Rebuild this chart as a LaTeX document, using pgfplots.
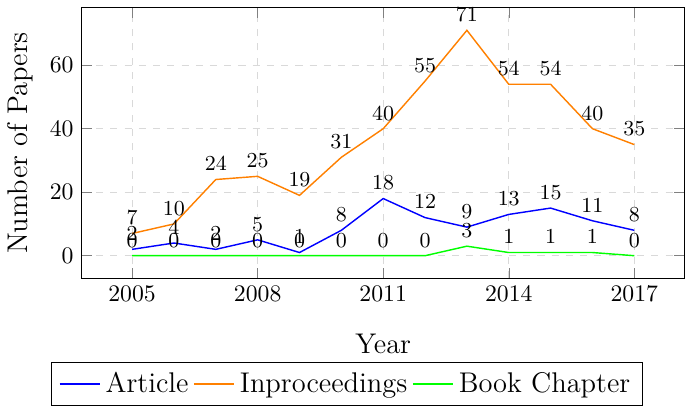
\documentclass[border=0pt]{standalone}
\usepackage{pgfplots}
\pgfplotsset{compat=1.18}

\begin{document}
\begin{tikzpicture}
    \begin{axis}[
        scale only axis,
        width=254pt,
        height=114pt,
        xlabel={Year},
        ylabel={Number of Papers},
        label style={font=\large},
        xlabel style={at={(axis description cs:0.5,-0.175)}, anchor=north},
        xtick={2005,2008,2011,2014,2017},
        ytick={0,20,40,60},
        /pgf/number format/1000 sep={},
        grid=major,
        grid style={dashed, gray!30},
        nodes near coords,
        nodes near coords style={black, font=\small},
        legend columns=-1,
        legend style={at={(0.44,-0.31)}, anchor=north, font=\large},
    ]

    % Article
    \addplot[blue, no marks, line width=0.6pt] coordinates {
        (2005,2) (2006,4) (2007,2) (2008,5) (2009,1) (2010,8) (2011,18)
        (2012,12) (2013,9) (2014,13) (2015,15) (2016,11) (2017,8)
    };
    \addlegendentry{Article}

    % Inproceedings
    \addplot[orange, no marks, line width=0.6pt] coordinates {
        (2005,7) (2006,10) (2007,24) (2008,25) (2009,19) (2010,31) (2011,40)
        (2012,55) (2013,71) (2014,54) (2015,54) (2016,40) (2017,35)
    };
    \addlegendentry{Inproceedings}

    % Book chapter
    \addplot[green, no marks, line width=0.6pt] coordinates {
        (2005,0) (2006,0) (2007,0) (2008,0) (2009,0) (2010,0) (2011,0)
        (2012,0) (2013,3) (2014,1) (2015,1) (2016,1) (2017,0)
    };
    \addlegendentry{Book Chapter}

    \end{axis}
\end{tikzpicture}
\end{document}
